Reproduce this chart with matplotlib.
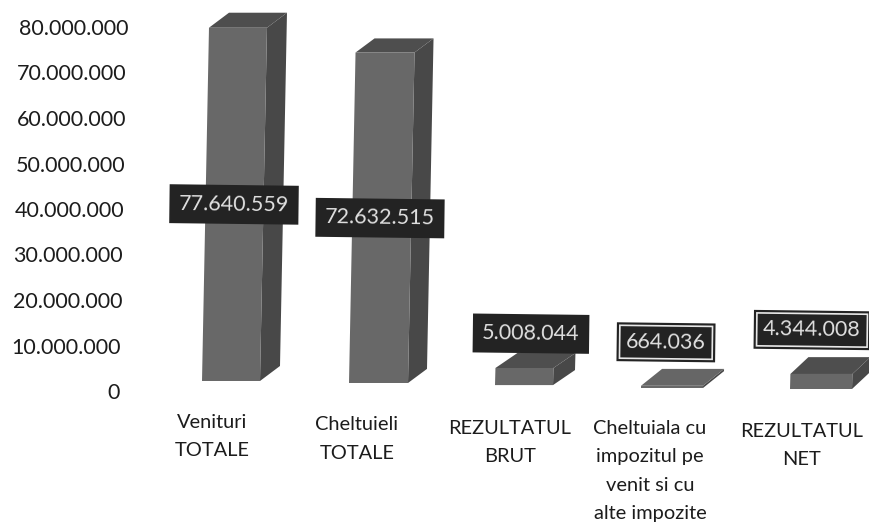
import matplotlib
matplotlib.use("Agg")
from matplotlib import pyplot as plt

plt.rcParams["font.family"] = ["Lato", "DejaVu Sans"]

categories = ["Venituri\nTOTALE", "Cheltuieli\nTOTALE", "REZULTATUL\nBRUT",
              "Cheltuiala cu\nimpozitul pe\nvenit si cu\nalte impozite", "REZULTATUL\nNET"]
values = [77640559, 72632515, 5008044, 664036, 4344008]
value_labels = ["77.640.559", "72.632.515", "5.008.044", "664.036", "4.344.008"]
y_ticks = [0, 10000000, 20000000, 30000000, 40000000, 50000000, 60000000, 70000000, 80000000]
y_tick_labels = ["0", "10.000.000", "20.000.000", "30.000.000", "40.000.000",
                 "50.000.000", "60.000.000", "70.000.000", "80.000.000"]

# the chart is 3d and photographed a bit crooked, so every bar has its own layout
bar_left = [202, 349, 495, 641, 790]
bar_width = [58, 59, 58, 62, 62]
bar_base = [2200000, 1760000, 1300000, 660000, 440000]
bar_squash = [1.0, 1.0, 0.75, 0.75, 0.76]
depth_x = [20, 19, 22, 21, 18]
depth_y = [3300000, 3100000, 3300000, 3700000, 3700000]
box_x = [234, 380, 531, 666, 812]
box_y = [41000000, 38000000, 12600000, 10700000, 13400000]
box_ring = [False, False, False, True, True]
cat_x = [212, 357, 510, 650, 802]
cat_y = [-5000000, -5600000, -6400000, -6400000, -7000000]
lean = 0.09 / 1000000  # x pixels per unit of value
box_color = "#232323"

fig = plt.figure(figsize=(8.69, 5.26), dpi=100)
ax = fig.add_axes([128 / 869, 0, 741 / 869, 1])
ax.set_xlim(128, 869)
ax.set_ylim(-135 / 4.55 * 1000000, 391 / 4.55 * 1000000)

for i in range(len(values)):
    x0 = bar_left[i]
    w = bar_width[i]
    b = bar_base[i]
    t = b + values[i] * bar_squash[i]
    dx = depth_x[i]
    dy = depth_y[i]
    s = values[i] * lean
    # side, top and front faces
    ax.fill([x0 + w, x0 + w + dx, x0 + w + dx + s, x0 + w + s], [b, b + dy, t + dy, t],
            color="#484848", lw=0, clip_on=False)
    ax.fill([x0 + s, x0 + w + s, x0 + w + dx + s, x0 + dx + s], [t, t, t + dy, t + dy],
            color="#4e4e4e" if values[i] > 1000000 else "#666666", lw=0, clip_on=False)
    ax.fill([x0, x0 + w, x0 + w + s, x0 + s], [b, b, t, t],
            color="#686868", lw=0, clip_on=False)

for i in range(len(values)):
    # the outer box, the last two labels get a white ring inside it
    ax.text(box_x[i], box_y[i], value_labels[i], color="#e0e0e0", fontsize=15.5, ha="center", va="center",
            rotation=-0.7, zorder=5,
            bbox=dict(boxstyle="square,pad=0.4", fc=box_color, ec=box_color, lw=1.2))
    if box_ring[i]:
        ax.text(box_x[i], box_y[i], value_labels[i], color="#e0e0e0", fontsize=15.5, ha="center", va="center",
                rotation=-0.7, zorder=6,
                bbox=dict(boxstyle="square,pad=0.3", fc=box_color, ec="#e8e8e8", lw=1.2))
    ax.text(cat_x[i], cat_y[i], categories[i], color="#1c1c1c", fontsize=14.4, ha="center", va="top",
            linespacing=1.8)

ax.set_yticks(y_ticks)
ax.set_yticklabels(y_tick_labels, fontsize=15.5, color="#1c1c1c")
ax.set_xticks([])
ax.tick_params(axis="y", length=0)
for i, tick in enumerate(ax.yaxis.get_major_ticks()):
    tick.set_pad((8 - i) * 0.72)  # labels lean with the scan
for side in ax.spines:
    ax.spines[side].set_visible(False)
ax.patch.set_alpha(0)

fig.savefig("out.png", dpi=100)
